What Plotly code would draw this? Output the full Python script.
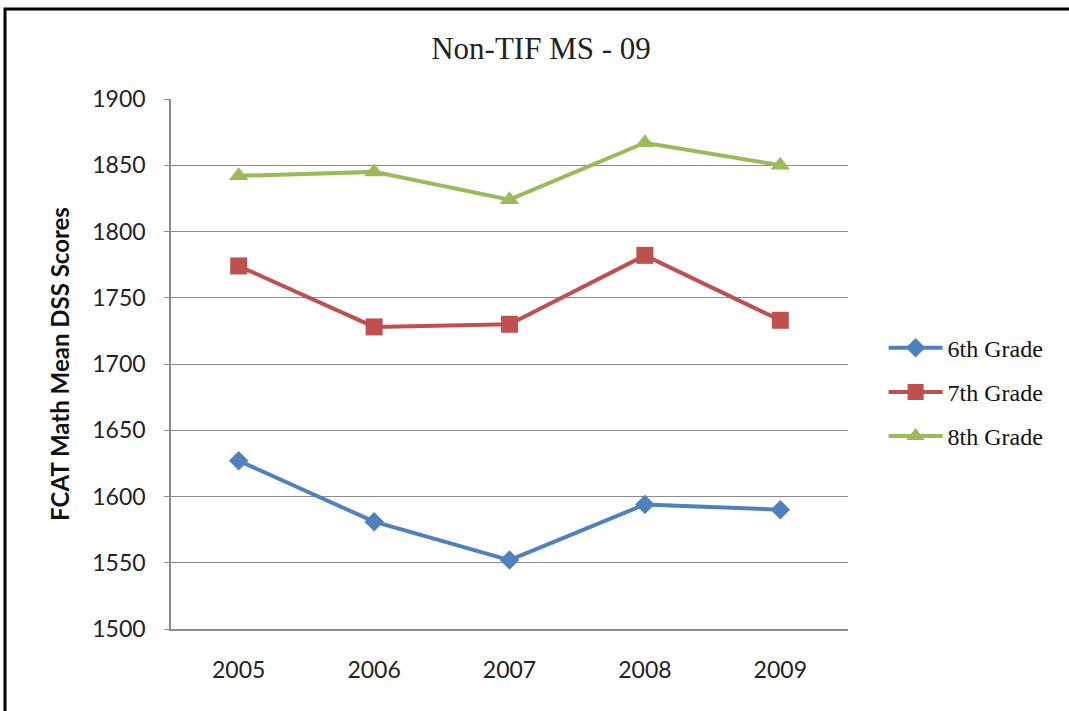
import plotly.graph_objects as go

years = ["2005", "2006", "2007", "2008", "2009"]
grade6 = [1627, 1581, 1552, 1594, 1590]
grade7 = [1774, 1728, 1730, 1782, 1733]
grade8 = [1842, 1845, 1824, 1867, 1850]
series_names = ["6th Grade", "7th Grade", "8th Grade"]
y_ticks = [1500, 1550, 1600, 1650, 1700, 1750, 1800, 1850, 1900]

colors = ["#4F81BD", "#C0504D", "#9BBB59"]
symbols = ["diamond", "square", "triangle-up"]
sizes = [15, 17, 17]

fig = go.Figure()
for i, (name, vals) in enumerate(zip(series_names, [grade6, grade7, grade8])):
    fig.add_trace(go.Scatter(
        x=years, y=vals, name=name, mode="lines+markers",
        line=dict(color=colors[i], width=4),
        marker=dict(symbol=symbols[i], size=sizes[i], color=colors[i]),
        legendgroup=name,
    ))

fig.update_layout(
    width=1069, height=711,
    margin=dict(l=171, r=221, t=99, b=82),
    paper_bgcolor="white", plot_bgcolor="white",
    title=dict(text="Non-TIF MS - 09", x=541 / 1069, xanchor="center",
               y=1 - 48 / 711, yanchor="middle",
               font=dict(family="Liberation Serif", size=31, color="#222")),
    showlegend=True,
    legend=dict(x=1.0526, xanchor="left", y=0.447, yanchor="middle",
                font=dict(family="Liberation Serif", size=24, color="#111"),
                tracegroupgap=10, itemwidth=54, bgcolor="rgba(0,0,0,0)"),
    xaxis=dict(type="category", range=[-0.5, 4.5], showgrid=False, showline=True,
               linecolor="#8c8c8c", linewidth=1.5, ticks="", ticklabelstandoff=20,
               tickfont=dict(family="Lato", size=23, color="#222")),
    yaxis=dict(range=[1500, 1900], tickvals=y_ticks, showgrid=True, gridcolor="#8c8c8c",
               gridwidth=1, showline=True, linecolor="#8c8c8c", linewidth=1.5,
               ticks="outside", ticklen=5, tickcolor="#8c8c8c", ticklabelstandoff=14,
               zeroline=False,
               tickfont=dict(family="Lato", size=23, color="#222"),
               title=dict(text="<b>FCAT Math Mean DSS Scores</b>", standoff=16,
                          font=dict(family="Lato", size=24, color="#111"))),
)

fig.add_shape(type="rect", xref="paper", yref="paper",
              x0=(5 - 171) / 677, x1=(1080 - 171) / 677,
              y0=(629 - 720) / 530, y1=(629 - 9) / 530,
              line=dict(color="black", width=3), fillcolor="rgba(0,0,0,0)", layer="above")

fig.write_html("out.html", config={"displayModeBar": False},
               post_script="document.body.style.margin='0';")
